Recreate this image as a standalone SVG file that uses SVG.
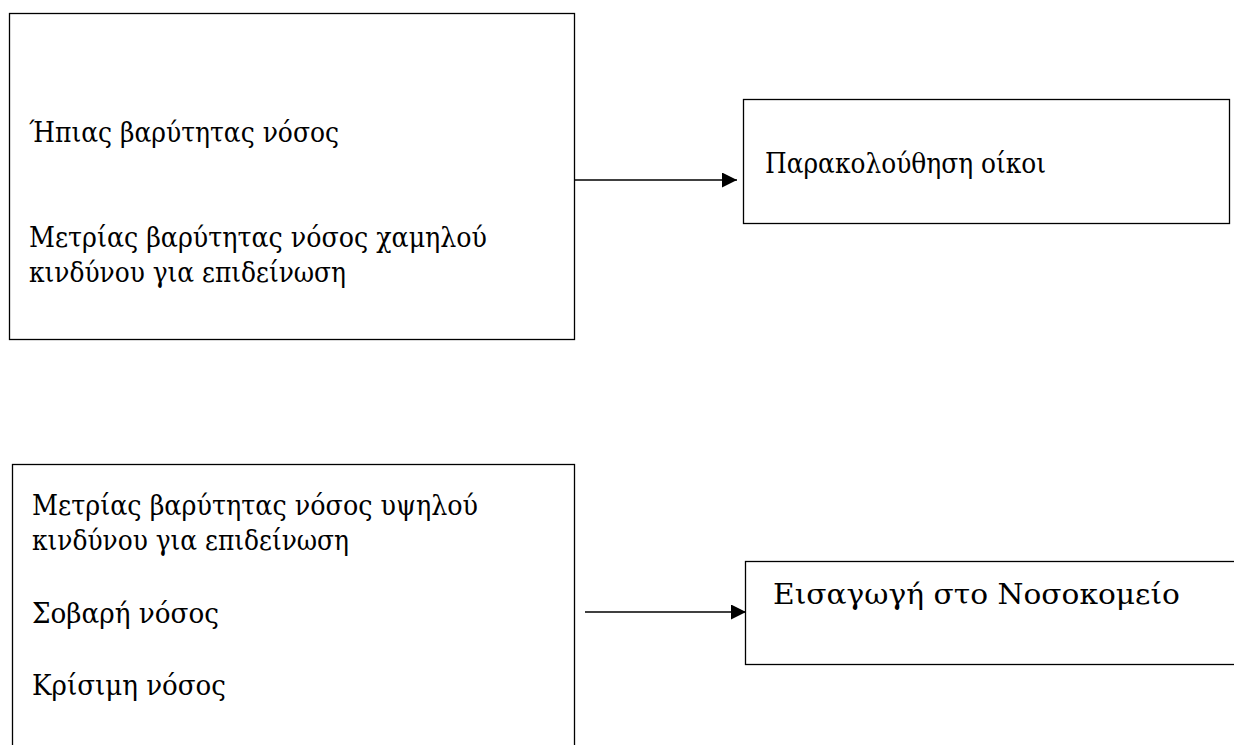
<svg xmlns="http://www.w3.org/2000/svg" width="1234" height="745" viewBox="0 0 1234 745">
<style>
.box{fill:#fff;stroke:#000;stroke-width:1.3}
.t{font-family:"DejaVu Serif","Liberation Serif",serif;font-size:27px;fill:#000}
.c{stroke:#000;stroke-width:1.3;fill:none}
</style>
<defs>
<marker id="ah" markerUnits="userSpaceOnUse" markerWidth="16" markerHeight="16" refX="15" refY="7.5" orient="auto">
<path d="M0,0 L15,7.5 L0,15 Z" fill="#000"/>
</marker>
</defs>
<rect width="1234" height="745" fill="#fff"/>
<g id="n1">
<rect class="box" x="9.5" y="13.5" width="565" height="326"/>
<text class="t" x="29" y="142" textLength="310" lengthAdjust="spacingAndGlyphs">Ήπιας βαρύτητας νόσος</text>
<text class="t" x="29" y="247" textLength="458" lengthAdjust="spacingAndGlyphs">Μετρίας βαρύτητας νόσος χαμηλού</text>
<text class="t" x="29" y="282" textLength="317" lengthAdjust="spacingAndGlyphs">κινδύνου για επιδείνωση</text>
</g>
<g id="n2">
<rect class="box" x="743.5" y="99.5" width="486" height="124"/>
<text class="t" x="765" y="173" textLength="281" lengthAdjust="spacingAndGlyphs">Παρακολούθηση οίκοι</text>
</g>
<g id="n3">
<rect class="box" x="12.5" y="464.5" width="562" height="300"/>
<text class="t" x="32" y="515" textLength="446" lengthAdjust="spacingAndGlyphs">Μετρίας βαρύτητας νόσος υψηλού</text>
<text class="t" x="32" y="550" textLength="317" lengthAdjust="spacingAndGlyphs">κινδύνου για επιδείνωση</text>
<text class="t" x="32" y="623" textLength="187" lengthAdjust="spacingAndGlyphs">Σοβαρή νόσος</text>
<text class="t" x="32" y="695" textLength="194" lengthAdjust="spacingAndGlyphs">Κρίσιμη νόσος</text>
</g>
<g id="n4">
<rect class="box" x="745.5" y="561.5" width="500" height="103"/>
<text class="t" x="773" y="604" textLength="407" lengthAdjust="spacingAndGlyphs">Εισαγωγή στο Νοσοκομείο</text>
</g>
<g id="connectors">
<line class="c" x1="575" y1="180" x2="737" y2="180" marker-end="url(#ah)"/>
<line class="c" x1="585" y1="612" x2="746" y2="612" marker-end="url(#ah)"/>
</g>
</svg>
